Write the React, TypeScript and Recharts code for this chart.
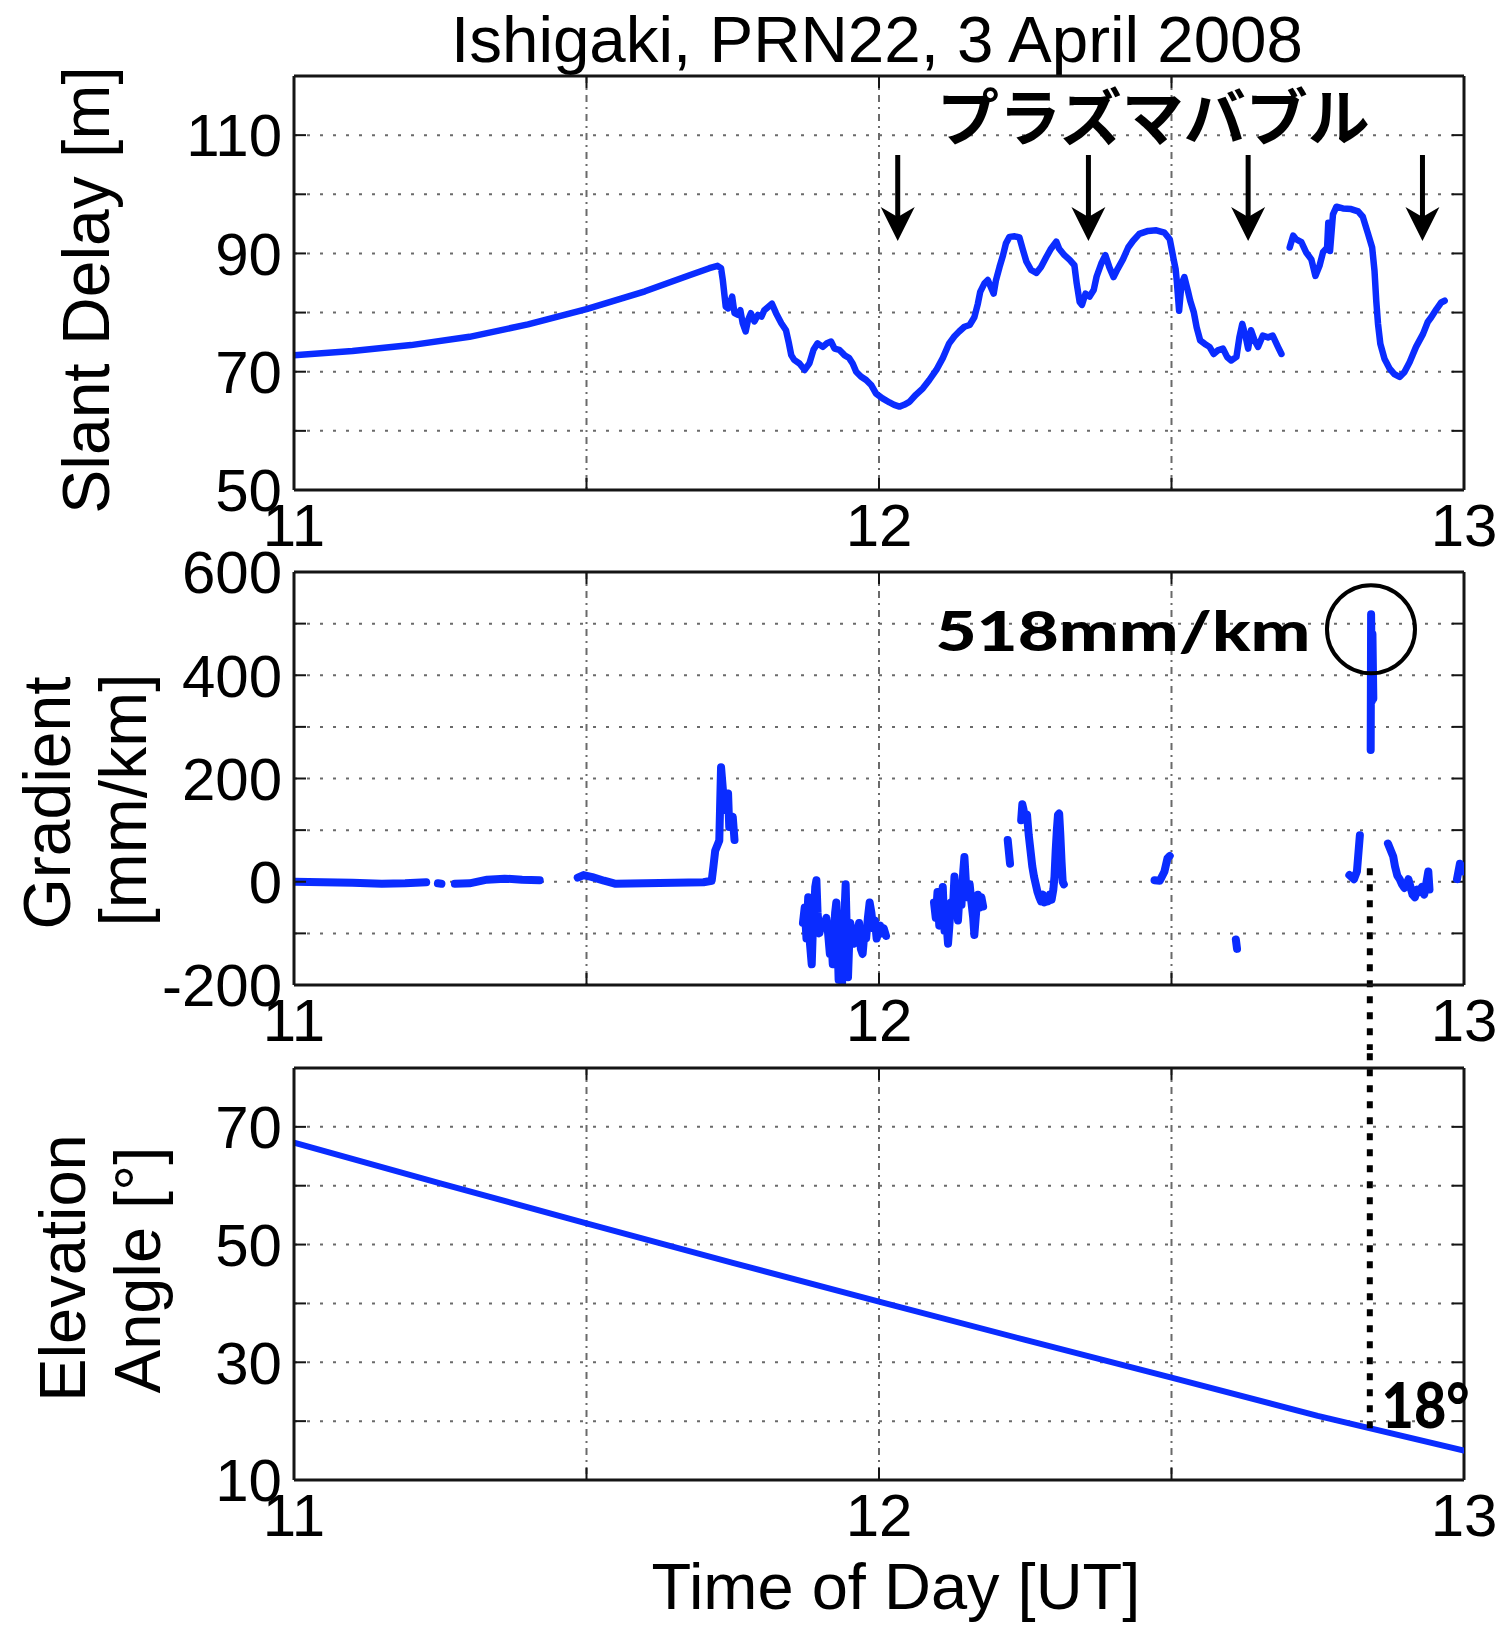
import React from 'react';
import { LineChart, Line, XAxis, YAxis, CartesianGrid, ReferenceLine, ReferenceDot } from 'recharts';

const FONT = '"Liberation Sans", Arial, Helvetica, sans-serif';
const JP_FONT = '"Noto Sans CJK JP", "Noto Sans CJK SC", sans-serif';
const BOLD_FONT = 'Lato, "DejaVu Sans", sans-serif';
const BLUE = '#0a2cff';
const AXIS = '#151515';
const GRID = '#6a6a6a';

// ---- axes / ticks ----
const timeDomain: [number, number] = [11, 13];
const timeTicks = [11, 11.5, 12, 12.5, 13];
const timeLabeled = [11, 12, 13];
const delayDomain: [number, number] = [50, 120];
const delayTicks = [50, 60, 70, 80, 90, 100, 110];
const delayLabeled = [50, 70, 90, 110];
const gradientDomain: [number, number] = [-200, 600];
const gradientTicks = [-200, -100, 0, 100, 200, 300, 400, 500, 600];
const gradientLabeled = [-200, 0, 200, 400, 600];
const elevationDomain: [number, number] = [10, 80];
const elevationTicks = [10, 20, 30, 40, 50, 60, 70, 80];
const elevationLabeled = [10, 30, 50, 70];

// ---- slant delay [m] (time UT, value) ----
const delaySegmentA: [number, number][] = [
  [11.0, 72.8], [11.1, 73.5], [11.2, 74.5], [11.3, 75.9], [11.4, 78.0], [11.5, 80.6], [11.6, 83.6],
  [11.676, 86.3], [11.693, 86.9], [11.71, 87.5], [11.724, 87.9], [11.73, 87.5], [11.733, 85.5],
  [11.738, 81.0], [11.742, 80.7], [11.746, 81.8], [11.749, 82.7], [11.753, 79.9], [11.759, 79.6],
  [11.763, 80.4], [11.767, 78.2], [11.772, 76.8], [11.776, 78.7], [11.781, 79.9], [11.787, 78.5],
  [11.793, 79.6], [11.799, 79.3], [11.804, 80.4], [11.81, 80.9], [11.817, 81.5], [11.824, 79.9],
  [11.833, 78.2], [11.841, 77.0], [11.846, 74.8], [11.85, 72.8], [11.855, 72.0], [11.864, 71.4],
  [11.873, 70.3], [11.881, 71.4], [11.888, 73.7], [11.895, 74.8], [11.904, 74.2], [11.911, 74.8],
  [11.918, 75.1], [11.924, 73.9], [11.932, 73.7], [11.941, 72.8], [11.949, 72.3], [11.955, 71.4],
  [11.961, 70.0], [11.969, 69.2], [11.978, 68.6], [11.987, 67.7], [11.995, 66.3], [12.006, 65.5],
  [12.018, 64.8], [12.026, 64.4], [12.035, 64.1], [12.043, 64.4], [12.052, 64.9], [12.063, 66.1],
  [12.075, 67.2], [12.086, 68.6], [12.098, 70.3], [12.109, 72.3], [12.12, 74.8], [12.129, 76.0],
  [12.137, 76.8], [12.146, 77.6], [12.155, 77.9], [12.163, 79.2], [12.169, 81.5], [12.173, 83.5],
  [12.18, 84.9], [12.186, 85.5], [12.192, 84.1], [12.196, 83.2], [12.2, 85.5], [12.206, 87.7],
  [12.212, 89.7], [12.217, 91.7], [12.223, 92.8], [12.232, 92.9], [12.24, 92.7], [12.246, 90.6],
  [12.252, 88.6], [12.26, 87.2], [12.269, 86.7], [12.277, 87.7], [12.286, 89.4], [12.294, 90.8],
  [12.303, 92.0], [12.308, 90.8], [12.317, 89.7], [12.326, 88.9], [12.334, 88.0], [12.338, 84.9],
  [12.343, 81.8], [12.347, 81.3], [12.353, 83.2], [12.36, 82.7], [12.367, 83.8], [12.372, 86.1],
  [12.38, 88.3], [12.387, 89.7], [12.394, 87.6], [12.401, 86.0], [12.408, 87.4], [12.417, 89.0],
  [12.426, 91.0], [12.434, 92.1], [12.445, 93.3], [12.46, 93.8], [12.474, 93.9], [12.488, 93.5],
  [12.497, 92.4], [12.501, 90.4], [12.504, 88.8], [12.507, 87.4], [12.509, 85.4], [12.513, 80.3],
  [12.517, 84.8], [12.522, 86.0], [12.528, 83.7], [12.532, 82.0], [12.538, 80.1], [12.543, 77.5],
  [12.549, 75.3], [12.557, 74.7], [12.565, 74.2], [12.572, 73.0], [12.579, 73.6], [12.588, 73.9],
  [12.595, 72.5], [12.602, 71.9], [12.611, 72.5], [12.616, 75.8], [12.621, 78.1], [12.627, 75.8],
  [12.631, 73.9], [12.636, 77.0], [12.642, 75.3], [12.648, 74.2], [12.656, 76.1], [12.665, 75.8],
  [12.673, 76.1], [12.682, 74.2], [12.688, 73.0],
];
const delaySegmentB: [number, number][] = [
  [12.702, 91.0], [12.708, 93.0], [12.713, 92.4], [12.722, 91.9], [12.73, 90.2], [12.739, 89.0],
  [12.746, 86.2], [12.753, 87.9], [12.759, 90.2], [12.766, 91.0], [12.768, 95.2], [12.771, 90.4],
  [12.776, 96.6], [12.782, 97.9], [12.793, 97.6], [12.807, 97.5], [12.819, 97.1], [12.827, 96.2],
  [12.836, 93.3], [12.843, 91.0], [12.847, 87.1], [12.85, 82.0], [12.853, 78.1], [12.857, 74.7],
  [12.864, 72.2], [12.873, 70.5], [12.881, 69.6], [12.89, 69.1], [12.898, 69.9], [12.907, 71.6],
  [12.918, 74.2], [12.93, 76.4], [12.938, 78.4], [12.944, 79.2], [12.953, 80.6], [12.961, 81.7],
  [12.967, 82.0],
];

// ---- gradient [mm/km] ----
const gradientSegments: [number, number][][] = [
  [[11.0, 0], [11.05, -1], [11.1, -2], [11.15, -4], [11.19, -3], [11.226, -1]],
  [[11.246, -3], [11.252, -4]],
  [[11.275, -4], [11.3, -3], [11.33, 4], [11.36, 6], [11.39, 4], [11.42, 3]],
  [[11.485, 8], [11.495, 13], [11.51, 9], [11.53, 2], [11.55, -4], [11.6, -3], [11.65, -2], [11.7, -1],
   [11.714, 2], [11.717, 30], [11.72, 60], [11.727, 80], [11.73, 222], [11.736, 139], [11.742, 171],
   [11.744, 106], [11.75, 126], [11.753, 81]],
  [[11.87, -80], [11.873, -50], [11.876, -110], [11.879, -30], [11.882, -120], [11.885, -160],
   [11.887, -90], [11.889, -60], [11.891, -10], [11.893, 3], [11.895, -60], [11.898, -100],
   [11.902, -80], [11.906, -85], [11.91, -70], [11.913, -100], [11.916, -140], [11.919, -120],
   [11.921, -160], [11.923, -100], [11.925, -60], [11.927, -40], [11.929, -110], [11.931, -190],
   [11.933, -150], [11.935, -70], [11.937, -195], [11.939, -120], [11.941, -60], [11.943, -5],
   [11.945, -100], [11.947, -185], [11.949, -120], [11.951, -80], [11.954, -100], [11.957, -120],
   [11.96, -90], [11.963, -110], [11.966, -80], [11.969, -130], [11.972, -140], [11.975, -100],
   [11.978, -110], [11.981, -70], [11.984, -40], [11.987, -60], [11.99, -90], [11.993, -75],
   [11.996, -110], [11.999, -95], [12.002, -85], [12.005, -100], [12.008, -90], [12.012, -105]],
  [[12.094, -40], [12.097, -70], [12.1, -20], [12.103, -85], [12.106, -50], [12.109, -10],
   [12.112, -95], [12.115, -75], [12.118, -120], [12.12, -90], [12.123, -40], [12.126, -60],
   [12.129, 10], [12.132, -30], [12.135, -75], [12.138, -20], [12.141, -45], [12.144, 20],
   [12.146, 48], [12.149, -10], [12.152, -30], [12.155, -5], [12.158, -40], [12.161, -70],
   [12.163, -103], [12.166, -60], [12.169, -25], [12.172, -50], [12.175, -30], [12.178, -48]],
  [[12.22, 81], [12.224, 35]],
  [[12.243, 119], [12.245, 150], [12.247, 140], [12.25, 120], [12.253, 130], [12.256, 90],
   [12.259, 60], [12.262, 30], [12.265, 10], [12.268, -5], [12.271, -20], [12.274, -30],
   [12.277, -38], [12.28, -25], [12.283, -40], [12.286, -30], [12.289, -38], [12.292, -25],
   [12.295, -35], [12.298, -15], [12.3, 10], [12.302, 60], [12.304, 100], [12.306, 130],
   [12.308, 132], [12.31, 90], [12.312, 40], [12.314, 0], [12.316, -5]],
  [[12.471, 3], [12.48, 2], [12.488, 20], [12.493, 45], [12.497, 50]],
  [[12.61, -112], [12.612, -130]],
  [[12.804, 13], [12.812, 5], [12.817, 20], [12.822, 90]],
  [[12.8405, 255], [12.8412, 518], [12.8425, 350], [12.8435, 480], [12.845, 355]],
  [[12.87, 74], [12.875, 60], [12.879, 49], [12.882, 30], [12.886, 12], [12.89, 5], [12.894, -5],
   [12.898, -12], [12.902, -5], [12.905, 5], [12.908, -8], [12.912, -25], [12.916, -30],
   [12.92, -15], [12.924, -20], [12.928, -10], [12.932, -25], [12.936, 0], [12.939, 20], [12.941, -15]],
  [[12.988, 5], [12.993, 35], [13.0, 20]],
];

// ---- elevation angle [deg] ----
const elevationSeries: [number, number][] = [
  [11, 67.3], [11.25, 60.4], [11.5, 53.6], [11.75, 46.9], [12, 40.3], [12.25, 33.8], [12.5, 27.4],
  [12.75, 20.9], [13, 15.0],
];

// ---- annotations ----
const bubbleArrowTimes = [12.032, 12.358, 12.631, 12.929];
const bubbleArrowTip = 92.1;
const bubbleLabel = { t: 12.469, v: 113.5, text: 'プラズマバブル' };
const peakCircle = { t: 12.841, v: 489 };
const peakLabel = { t: 12.417, v: 447, text: '518mm/km' };
const markerTime = 12.839;
const markerGradientTop = 26;
const markerGradientBottom = -326;
const markerElevation = 18.8;
const markerElevationTop = 83.1;
const elevLabel = { t: 12.859, v: 18.9, text: '18°' };

type Row = { t: number; v: number | null };
function buildRows(segments: [number, number][][]): Row[] {
  const rows: Row[] = [];
  segments.forEach((seg, i) => {
    if (i > 0) {
      const prev = segments[i - 1];
      rows.push({ t: (prev[prev.length - 1][0] + seg[0][0]) / 2, v: null });
    }
    seg.forEach(([t, v]) => rows.push({ t, v }));
  });
  return rows;
}

const delayRows = buildRows([delaySegmentA, delaySegmentB]);
const gradientRows = buildRows(gradientSegments);
const elevationRows = buildRows([elevationSeries]);

const axisLine = { stroke: AXIS, strokeWidth: 3 };
const tickLine = { stroke: AXIS, strokeWidth: 2 };
const tickStyle = { fontSize: 60, fill: '#000', fontFamily: FONT };
const TICK_FRACTION = 12 / 413; // inward tick length relative to the plot size

function frame(yDomain: [number, number], yTicks: number[], yLabeled: number[]) {
  const [y0, y1] = yDomain;
  const [x0, x1] = timeDomain;
  const dy = (y1 - y0) * TICK_FRACTION;
  const dx = (x1 - x0) * (12 / 1170);
  const innerY = yTicks.filter((v) => v > y0 && v < y1);
  const innerX = timeTicks.filter((t) => t > x0 && t < x1);
  return [
    <CartesianGrid key="gh" vertical={false} stroke={GRID} strokeWidth={2} strokeDasharray="3 10" />,
    <CartesianGrid key="gv" horizontal={false} stroke={GRID} strokeWidth={2} strokeDasharray="7 5 2 5" />,
    <XAxis key="xb" type="number" dataKey="t" domain={timeDomain} ticks={timeTicks} allowDataOverflow interval={0}
      tickFormatter={(v: number) => (timeLabeled.includes(v) ? String(v) : '')}
      tickSize={-12} tickMargin={25} height={60} axisLine={axisLine} tickLine={tickLine} tick={tickStyle} />,
    <YAxis key="yl" type="number" domain={yDomain} ticks={yTicks} allowDataOverflow interval={0}
      tickFormatter={(v: number) => (yLabeled.includes(v) ? String(v) : '')}
      tickSize={-12} tickMargin={24} width={100} axisLine={axisLine} tickLine={tickLine} tick={tickStyle} />,
    <ReferenceLine key="bt" y={y1} stroke={AXIS} strokeWidth={3} ifOverflow="visible" />,
    <ReferenceLine key="br" x={x1} stroke={AXIS} strokeWidth={3} ifOverflow="visible" />,
    ...innerY.map((v) => (
      <ReferenceLine key={`rt${v}`} segment={[{ x: x1 - dx, y: v }, { x: x1, y: v }]} stroke={AXIS} strokeWidth={2} ifOverflow="visible" />
    )),
    ...innerX.map((t) => (
      <ReferenceLine key={`tt${t}`} segment={[{ x: t, y: y1 }, { x: t, y: y1 - dy }]} stroke={AXIS} strokeWidth={2} ifOverflow="visible" />
    )),
  ];
}

const Arrow = (p: any) => {
  const { cx, cy } = p;
  return (
    <g>
      <line x1={cx} y1={cy - 86} x2={cx} y2={cy - 20} stroke="#000" strokeWidth={5} />
      <path d={`M${cx},${cy} L${cx - 17},${cy - 34} L${cx},${cy - 24} L${cx + 17},${cy - 34} Z`} fill="#000" />
    </g>
  );
};

const textShape = (text: string, style: any) => (p: any) => (
  <text x={p.cx} y={p.cy} {...style}>{text}</text>
);

const lineProps = {
  dataKey: 'v',
  stroke: BLUE,
  dot: false,
  isAnimationActive: false,
  strokeLinejoin: 'round' as const,
  strokeLinecap: 'round' as const,
  connectNulls: false,
};

export default function App() {
  return (
    <div style={{ position: 'absolute', left: 0, top: 0, width: 1498, height: 1625, background: '#fff', fontFamily: FONT }}>
      <svg width={1498} height={1625} style={{ position: 'absolute', left: 0, top: 0 }}>
        <text x={877} y={62} textAnchor="middle" fontSize={65.5} fontFamily={FONT} fill="#000">Ishigaki, PRN22, 3 April 2008</text>
        <text transform="translate(109,290) rotate(-90)" textAnchor="middle" fontSize={66} fontFamily={FONT} fill="#000">Slant Delay [m]</text>
        <text transform="translate(70,803) rotate(-90)" textAnchor="middle" fontSize={66} fontFamily={FONT} fill="#000">Gradient</text>
        <text transform="translate(146,800) rotate(-90)" textAnchor="middle" fontSize={66} fontFamily={FONT} fill="#000">[mm/km]</text>
        <text transform="translate(85,1268) rotate(-90)" textAnchor="middle" fontSize={65} fontFamily={FONT} fill="#000">Elevation</text>
        <text transform="translate(160,1270) rotate(-90)" textAnchor="middle" fontSize={65} fontFamily={FONT} fill="#000">Angle [°]</text>
        <text x={896} y={1609} textAnchor="middle" fontSize={65} fontFamily={FONT} fill="#000">Time of Day [UT]</text>
      </svg>

      <div style={{ position: 'absolute', left: 0, top: 0 }}>
        <LineChart width={1498} height={565} data={delayRows} margin={{ top: 76, right: 34, bottom: 15, left: 194 }}>
          {frame(delayDomain, delayTicks, delayLabeled)}
          <Line {...lineProps} strokeWidth={6.5} />
          {bubbleArrowTimes.map((t) => (
            <ReferenceDot key={t} x={t} y={bubbleArrowTip} r={1} ifOverflow="visible" shape={Arrow} />
          ))}
          <ReferenceDot x={bubbleLabel.t} y={bubbleLabel.v} r={1} ifOverflow="visible"
            shape={textShape(bubbleLabel.text, { textAnchor: 'middle', dominantBaseline: 'central', fontSize: 62, fontWeight: 700, fontFamily: JP_FONT, fill: '#000' })} />
        </LineChart>
      </div>

      <div style={{ position: 'absolute', left: 0, top: 520 }}>
        <LineChart width={1498} height={550} data={gradientRows} margin={{ top: 52, right: 34, bottom: 25, left: 194 }}>
          {frame(gradientDomain, gradientTicks, gradientLabeled)}
          <Line {...lineProps} strokeWidth={8} />
          <ReferenceLine segment={[{ x: markerTime, y: markerGradientTop }, { x: markerTime, y: markerGradientBottom }]}
            stroke="#000" strokeWidth={6} strokeDasharray="7 9" ifOverflow="visible" />
          <ReferenceDot x={peakCircle.t} y={peakCircle.v} r={44} fill="none" stroke="#000" strokeWidth={4} ifOverflow="visible" />
          <ReferenceDot x={peakLabel.t} y={peakLabel.v} r={1} ifOverflow="visible"
            shape={textShape(peakLabel.text, { textAnchor: 'middle', fontSize: 55, fontWeight: 900, fontFamily: BOLD_FONT, fill: '#000', textLength: 375, lengthAdjust: 'spacingAndGlyphs' })} />
        </LineChart>
      </div>

      <div style={{ position: 'absolute', left: 0, top: 1050 }}>
        <LineChart width={1498} height={575} data={elevationRows} margin={{ top: 18, right: 34, bottom: 85, left: 194 }}>
          {frame(elevationDomain, elevationTicks, elevationLabeled)}
          <Line {...lineProps} strokeWidth={6} />
          <ReferenceLine segment={[{ x: markerTime, y: markerElevation }, { x: markerTime, y: markerElevationTop }]}
            stroke="#000" strokeWidth={6} strokeDasharray="7 9" ifOverflow="visible" />
          <ReferenceDot x={elevLabel.t} y={elevLabel.v} r={1} ifOverflow="visible"
            shape={textShape(elevLabel.text, { textAnchor: 'start', fontSize: 62, fontWeight: 900, fontFamily: BOLD_FONT, fill: '#000', textLength: 88, lengthAdjust: 'spacingAndGlyphs' })} />
        </LineChart>
      </div>
    </div>
  );
}
